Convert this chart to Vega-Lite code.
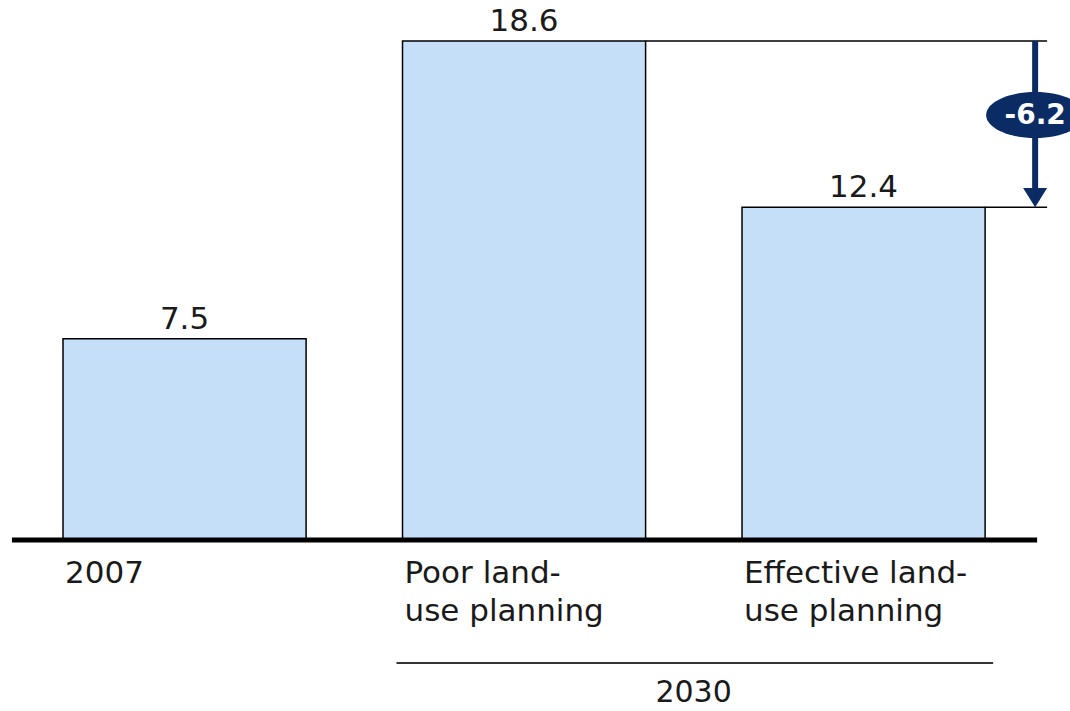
{
  "$schema": "https://vega.github.io/schema/vega-lite/v6.json",
  "width": 1070,
  "height": 711,
  "autosize": {"type": "none"},
  "padding": 0,
  "background": "white",
  "config": {"view": {"stroke": null}},
  "datasets": {
    "bars": [
      {"cat": "2007", "label": "2007", "value": 7.5},
      {"cat": "Poor", "label": "Poor land-\nuse planning", "value": 18.6},
      {"cat": "Effective", "label": "Effective land-\nuse planning", "value": 12.4}
    ],
    "diff": [
      {"from": "Poor", "to": "Effective", "top": 18.6, "bottom": 12.4, "change": "-6.2"}
    ],
    "group": [
      {"label": "2030", "first": "Poor", "last": "Effective"}
    ]
  },
  "encoding": {
    "x": {
      "field": "cat",
      "type": "nominal",
      "axis": null,
      "scale": {"domain": ["2007", "Poor", "Effective"], "paddingInner": 0.284, "paddingOuter": 0.2178, "align": 0.426}
    },
    "y": {
      "type": "quantitative",
      "axis": null,
      "scale": {"domain": [-6.373, 20.127], "nice": false, "zero": false}
    }
  },
  "layer": [
    {
      "data": {"name": "bars"},
      "mark": {"type": "bar", "fill": "#C6DFF8", "stroke": "#000000", "strokeWidth": 1.5},
      "encoding": {
        "x": {"field": "cat", "type": "nominal"},
        "y": {"field": "value", "type": "quantitative"}
      }
    },
    {
      "data": {"name": "bars"},
      "mark": {"type": "text", "font": "DejaVu Sans", "fontSize": 31, "color": "#1a1a1a", "align": "center", "baseline": "alphabetic", "dy": -10},
      "encoding": {
        "x": {"field": "cat", "type": "nominal"},
        "y": {"field": "value", "type": "quantitative"},
        "text": {"field": "value", "type": "quantitative", "format": ".1f"}
      }
    },
    {
      "data": {"name": "bars"},
      "mark": {"type": "text", "font": "DejaVu Sans", "fontSize": 31, "color": "#1a1a1a", "align": "left", "baseline": "alphabetic", "lineBreak": "\n", "lineHeight": 38, "dx": 2},
      "encoding": {
        "x": {"field": "cat", "type": "nominal", "bandPosition": 0},
        "y": {"datum": -1.62, "type": "quantitative"},
        "text": {"field": "label", "type": "nominal"}
      }
    },
    {
      "data": {"name": "group"},
      "mark": {"type": "rule", "color": "#000000", "strokeWidth": 5},
      "encoding": {
        "x": {"datum": "2007", "type": "nominal", "bandPosition": -0.21},
        "x2": {"datum": "Effective", "bandPosition": 1.214},
        "y": {"datum": 0, "type": "quantitative"}
      }
    },
    {
      "data": {"name": "diff"},
      "mark": {"type": "rule", "color": "#000000", "strokeWidth": 1.5},
      "encoding": {
        "x": {"field": "from", "type": "nominal", "bandPosition": 1},
        "x2": {"field": "to", "bandPosition": 1.255},
        "y": {"field": "top", "type": "quantitative"}
      }
    },
    {
      "data": {"name": "diff"},
      "mark": {"type": "rule", "color": "#000000", "strokeWidth": 1.5},
      "encoding": {
        "x": {"field": "to", "type": "nominal", "bandPosition": 1},
        "x2": {"field": "to", "bandPosition": 1.255},
        "y": {"field": "bottom", "type": "quantitative"}
      }
    },
    {
      "data": {"name": "diff"},
      "mark": {"type": "rule", "color": "#0B2B64", "strokeWidth": 6, "y2Offset": -15},
      "encoding": {
        "x": {"field": "to", "type": "nominal", "bandPosition": 1.2058},
        "y": {"field": "top", "type": "quantitative"},
        "y2": {"field": "bottom"}
      }
    },
    {
      "data": {"name": "diff"},
      "mark": {"type": "point", "shape": "M-1,-1.6L1,-1.6L0,0Z", "filled": true, "color": "#0B2B64", "opacity": 1, "size": 576},
      "encoding": {
        "x": {"field": "to", "type": "nominal", "bandPosition": 1.2058},
        "y": {"field": "bottom", "type": "quantitative"}
      }
    },
    {
      "data": {"name": "diff"},
      "mark": {"type": "point", "shape": "M-1,0A1,0.47,0,1,1,1,0A1,0.47,0,1,1,-1,0Z", "filled": true, "color": "#0B2B64", "opacity": 1, "size": 9604, "yOffset": 74},
      "encoding": {
        "x": {"field": "to", "type": "nominal", "bandPosition": 1.2058},
        "y": {"field": "top", "type": "quantitative"}
      }
    },
    {
      "data": {"name": "diff"},
      "mark": {"type": "text", "font": "DejaVu Sans", "fontWeight": "bold", "fontSize": 28, "color": "#ffffff", "align": "center", "baseline": "middle", "yOffset": 75},
      "encoding": {
        "x": {"field": "to", "type": "nominal", "bandPosition": 1.2058},
        "y": {"field": "top", "type": "quantitative"},
        "text": {"field": "change", "type": "nominal"}
      }
    },
    {
      "data": {"name": "group"},
      "mark": {"type": "rule", "color": "#333333", "strokeWidth": 2},
      "encoding": {
        "x": {"field": "first", "type": "nominal", "bandPosition": -0.0247},
        "x2": {"field": "last", "bandPosition": 1.033},
        "y": {"datum": -4.585, "type": "quantitative"}
      }
    },
    {
      "data": {"name": "group"},
      "mark": {"type": "text", "font": "DejaVu Sans", "fontSize": 30, "color": "#1a1a1a", "align": "center", "baseline": "alphabetic"},
      "encoding": {
        "x": {"field": "first", "type": "nominal", "bandPosition": 1.1975},
        "y": {"datum": -6.05, "type": "quantitative"},
        "text": {"field": "label", "type": "nominal"}
      }
    }
  ]
}
